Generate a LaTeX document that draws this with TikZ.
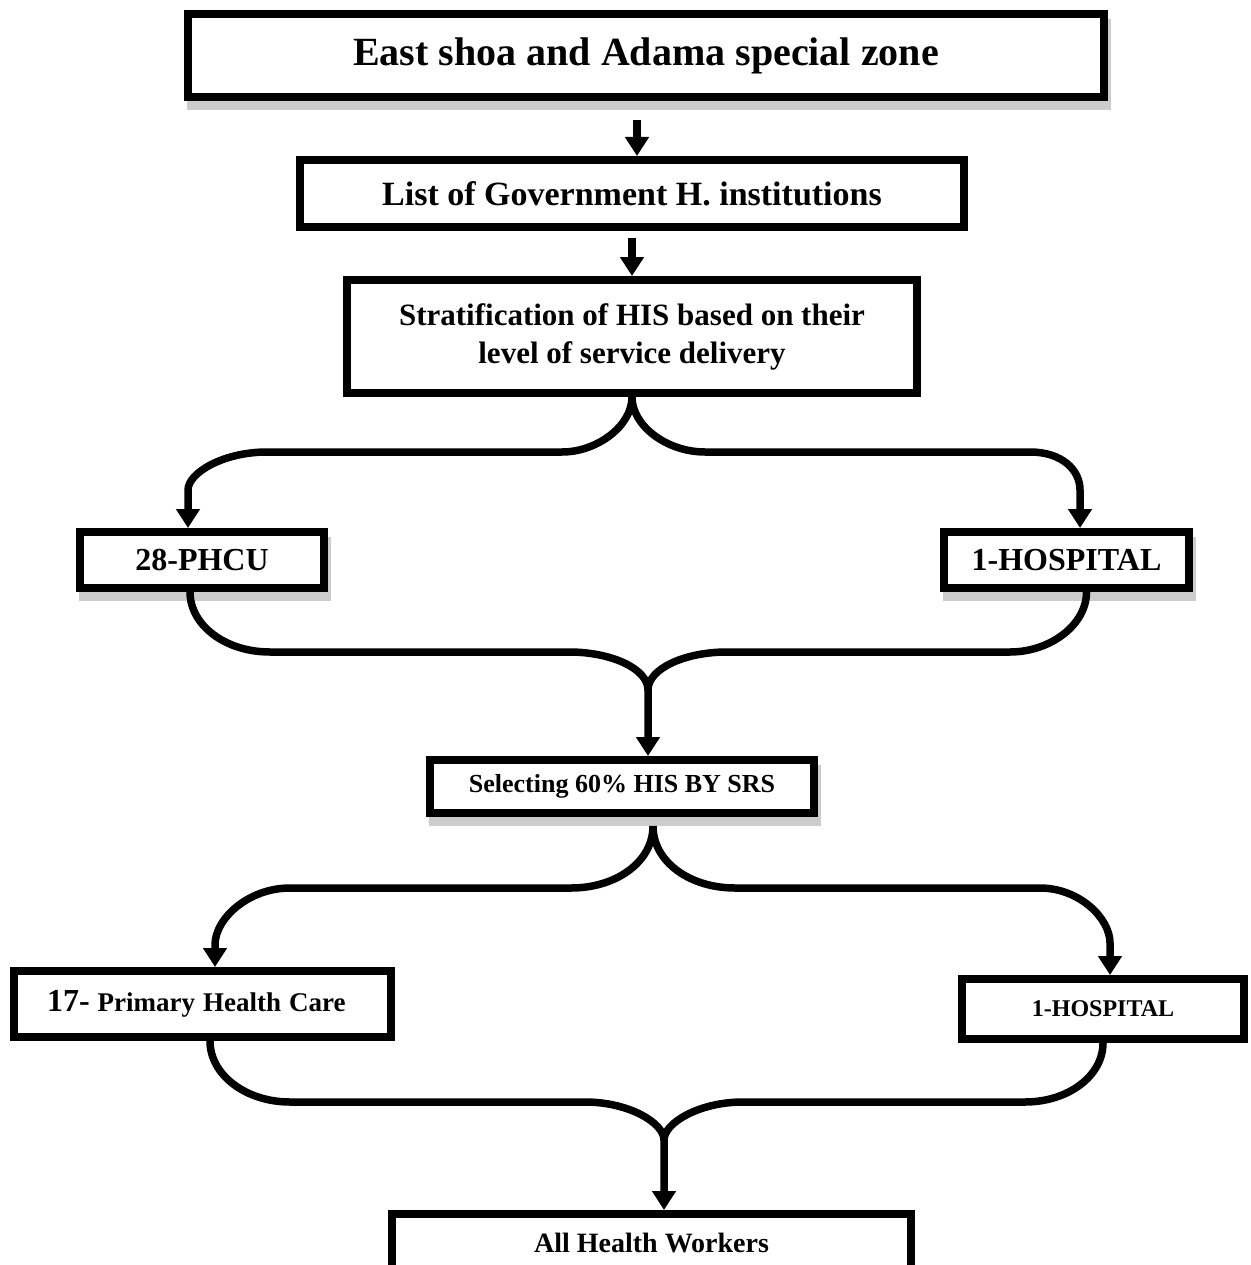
\documentclass[tikz,border=0pt]{standalone}
\usepackage{fontspec}
\setmainfont{Liberation Serif}
\usetikzlibrary{arrows.meta,shadows,calc}
\begin{document}
\begin{tikzpicture}[x=1pt,y=-1pt,
  box/.style={draw=black, line width=8pt, fill=white, inner sep=0pt, align=center},
  shbox/.style={box, general shadow={fill=gray!40, draw=gray!40, line width=8pt, shadow xshift=3pt, shadow yshift=-9pt}},
  conn/.style={line width=7.5pt, -{Triangle[width=23pt,length=19pt]}},
  link/.style={line width=7.5pt}
]
\useasboundingbox (0,0) rectangle (1250,1265);
\clip (0,0) rectangle (1250,1265);

\node[shbox, minimum width=916pt, minimum height=83pt, font=\bfseries\fontsize{40}{48}\selectfont] (b1) at (646,55.5) {East shoa and Adama special zone};
\node[box, minimum width=664pt, minimum height=67pt, font=\bfseries\fontsize{34}{40}\selectfont] (b2) at (632,193.5) {List of Government H. institutions};
\node[box, minimum width=570pt, minimum height=113pt, font=\bfseries\fontsize{31}{38}\selectfont] (b3) at (632,336.5) {Stratification of HIS based on their\\level of service delivery};
\node[shbox, minimum width=244pt, minimum height=56pt, font=\bfseries\fontsize{32}{38}\selectfont] (phcu) at (202,560) {28-PHCU};
\node[shbox, minimum width=245pt, minimum height=56pt, font=\bfseries\fontsize{32}{38}\selectfont] (h1) at (1066.5,560) {1-HOSPITAL};
\node[shbox, minimum width=384pt, minimum height=53pt, font=\bfseries\fontsize{26}{30}\selectfont] (sel) at (622,786.5) {Selecting 60\% HIS BY SRS};
\node[box, text width=311pt, minimum height=66pt, inner xsep=33pt, align=left, font=\bfseries] (p17) at (202.5,1004) {{\fontsize{32}{38}\selectfont 17-}\hspace{8pt}{\fontsize{27}{32}\selectfont Primary\hspace{8pt}Health\hspace{8pt}Care}};
\node[box, minimum width=282pt, minimum height=60pt, font=\bfseries\fontsize{24}{28}\selectfont] (h2) at (1103,1009) {1-HOSPITAL};
\node[box, minimum width=519pt, minimum height=58pt, font=\bfseries\fontsize{28}{34}\selectfont] (all) at (651.5,1243) {All Health Workers};

% straight arrows
\draw[conn] ($(b1.south)+(-9,19)$) -- ($(b2.north)+(5,0)$);
\draw[conn] ($(b2.south)+(0,7)$) -- (b3.north);

% split 1
\draw[conn] (b3.south) .. controls (632,426) and (597,452) .. (562,452) -- (267,452) .. controls (223,452) and (188,473) .. (188,490) -- ($(phcu.north)+(-14,0)$);
\draw[conn] (b3.south) .. controls (632,426) and (667,452) .. (705,452) -- (1030,452) .. controls (1062,452) and (1080,470) .. (1080,490) -- ($(h1.north)+(13.5,0)$);

% merge 1
\coordinate (m1) at (648,690);
\draw[link] ($(h1.south)+(20,0)$) .. controls (1086.5,625) and (1050,652) .. (1010,652) -- (727,652) .. controls (684,652) and (648,669) .. (m1);
\draw[conn] ($(phcu.south)+(-12,0)$) .. controls (190,625) and (225,652) .. (270,652) -- (569,652) .. controls (612,652) and (648,669) .. (m1) -- ($(sel.north)+(26,0)$);

% split 2
\draw[conn] ($(sel.south)+(31,9)$) .. controls (653,862) and (616,888) .. (571,888) -- (290,888) .. controls (249,888) and (215,918) .. (215,945) -- ($(p17.north)+(12.5,0)$);
\draw[conn] ($(sel.south)+(31,9)$) .. controls (653,862) and (690,888) .. (735,888) -- (1040,888) .. controls (1079,888) and (1110,918) .. (1110,943) -- ($(h2.north)+(7,0)$);

% merge 2
\coordinate (m2) at (664,1140);
\draw[link] (h2.south) .. controls (1103,1076) and (1068,1102) .. (1025,1102) -- (743,1102) .. controls (699,1102) and (664,1123) .. (m2);
\draw[conn] ($(p17.south)+(7.5,0)$) .. controls (210,1075) and (246,1102) .. (290,1102) -- (585,1102) .. controls (629,1102) and (664,1123) .. (m2) -- ($(all.north)+(12.5,0)$);
\end{tikzpicture}
\end{document}
